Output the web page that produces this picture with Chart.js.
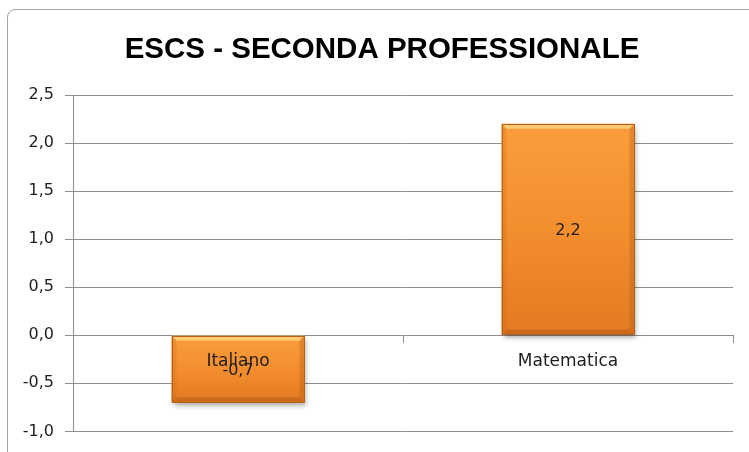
<!DOCTYPE html>
<html><head><meta charset="utf-8">
<script src="https://cdn.jsdelivr.net/npm/chart.js@4/dist/chart.umd.min.js"></script>
<style>
html,body{margin:0;padding:0;background:#fff;width:749px;height:452px;overflow:hidden}
#frame{position:absolute;left:7px;top:9px;width:790px;height:490px;border:1px solid #a6a6a6;border-radius:8px;box-sizing:border-box}
#c{position:absolute;left:0;top:0}
</style></head><body>
<div id="frame"></div>
<canvas id="c" width="749" height="452"></canvas>
<script>
const titleText = 'ESCS - SECONDA PROFESSIONALE';
const categories = ['Italiano', 'Matematica'];
const escsValues = [-0.7, 2.2];
const yMin = -1.0, yMax = 2.5, yStep = 0.5;

const fmt = v => Number(v).toFixed(1).replace('.', ',');
const TXT = '#1e1e1e';
const GRID = '#8e8e8e';

const shadowPlugin = {
  id: 'barShadow',
  beforeDatasetsDraw(chart) {
    const c = chart.ctx; c.save();
    c.shadowColor = 'rgba(0,0,0,0.35)'; c.shadowBlur = 5; c.shadowOffsetX = 2; c.shadowOffsetY = 3;
  },
  afterDatasetsDraw(chart) {
    const c = chart.ctx; c.restore();
    chart.getDatasetMeta(0).data.forEach(el => {
      const p = el.getProps(['x', 'y', 'base', 'width'], true);
      const l = p.x - p.width / 2, r = p.x + p.width / 2;
      const t = Math.min(p.y, p.base), b = Math.max(p.y, p.base);
      const bv = 5;
      c.save();
      c.beginPath(); c.moveTo(l, t); c.lineTo(r, t); c.lineTo(r - bv, t + bv); c.lineTo(l + bv, t + bv); c.closePath();
      c.fillStyle = 'rgba(255,214,130,0.8)'; c.fill();
      c.beginPath(); c.moveTo(l, b); c.lineTo(r, b); c.lineTo(r - bv, b - bv); c.lineTo(l + bv, b - bv); c.closePath();
      c.fillStyle = 'rgba(170,85,15,0.45)'; c.fill();
      c.beginPath(); c.moveTo(l, t); c.lineTo(l + bv, t + bv); c.lineTo(l + bv, b - bv); c.lineTo(l, b); c.closePath();
      c.fillStyle = 'rgba(190,95,20,0.22)'; c.fill();
      c.beginPath(); c.moveTo(r, t); c.lineTo(r - bv, t + bv); c.lineTo(r - bv, b - bv); c.lineTo(r, b); c.closePath();
      c.fillStyle = 'rgba(170,85,15,0.3)'; c.fill();
      c.strokeStyle = '#B7601A'; c.lineWidth = 1;
      c.strokeRect(Math.round(l) + 0.5, Math.round(t) + 0.5, Math.round(r - l) - 1, Math.round(b - t) - 1);
      c.restore();
    });
  }
};

const labelPlugin = {
  id: 'labelsAndTitle',
  afterDraw(chart) {
    const c = chart.ctx;
    c.save();
    c.fillStyle = '#000';
    c.font = 'bold 29.5px "Liberation Sans", Arial, sans-serif';
    c.textAlign = 'center'; c.textBaseline = 'alphabetic';
    c.fillText(titleText, 382, 58);
    c.font = '16px "DejaVu Sans", sans-serif';
    c.fillStyle = TXT; c.textBaseline = 'middle';
    const meta = chart.getDatasetMeta(0);
    meta.data.forEach((el, i) => {
      const p = el.getProps(['x', 'y', 'base'], true);
      c.fillText(fmt(escsValues[i]), p.x, (p.y + p.base) / 2 + 2);
    });
    c.restore();
  }
};

const backgroundFill = (ctx) => {
  const chart = ctx.chart;
  if (!chart.chartArea || ctx.type !== 'data' || !chart.scales.y) return '#F7922E';
  const ys = chart.scales.y;
  const v = ctx.raw;
  const top = ys.getPixelForValue(Math.max(v, 0));
  const bot = ys.getPixelForValue(Math.min(v, 0));
  const g = chart.ctx.createLinearGradient(0, top, 0, bot);
  g.addColorStop(0, '#FB9D3C');
  g.addColorStop(0.5, '#F38E2F');
  g.addColorStop(1, '#E37A22');
  return g;
};

new Chart(document.getElementById('c'), {
  type: 'bar',
  data: {
    labels: categories,
    datasets: [{
      data: escsValues,
      backgroundColor: backgroundFill,
      borderWidth: 0,
      barPercentage: 0.403,
      categoryPercentage: 1.0
    }]
  },
  options: {
    responsive: false,
    animation: false,
    devicePixelRatio: 1,
    layout: { padding: { top: 95, right: 16, bottom: 18, left: 0 } },
    plugins: { legend: { display: false }, tooltip: { enabled: false }, title: { display: false } },
    scales: {
      y: {
        min: yMin, max: yMax,
        afterFit(scale) { scale.width = 73; },
        ticks: { stepSize: yStep, padding: 11, color: TXT, font: { family: '"DejaVu Sans", sans-serif', size: 16 }, callback: v => fmt(v) },
        grid: { color: GRID, lineWidth: 1, tickLength: 8, drawTicks: true },
        border: { display: true, color: GRID, width: 1 }
      },
      x: {
        position: { y: 0 },
        offset: true,
        ticks: { z: 1, padding: 9, color: TXT, font: { family: '"DejaVu Sans", sans-serif', size: 17 } },
        grid: { offset: true, drawOnChartArea: false, drawTicks: true, tickLength: 7, color: GRID },
        border: { display: true, color: GRID, width: 1 }
      }
    }
  },
  plugins: [shadowPlugin, labelPlugin]
});
</script>
</body></html>
